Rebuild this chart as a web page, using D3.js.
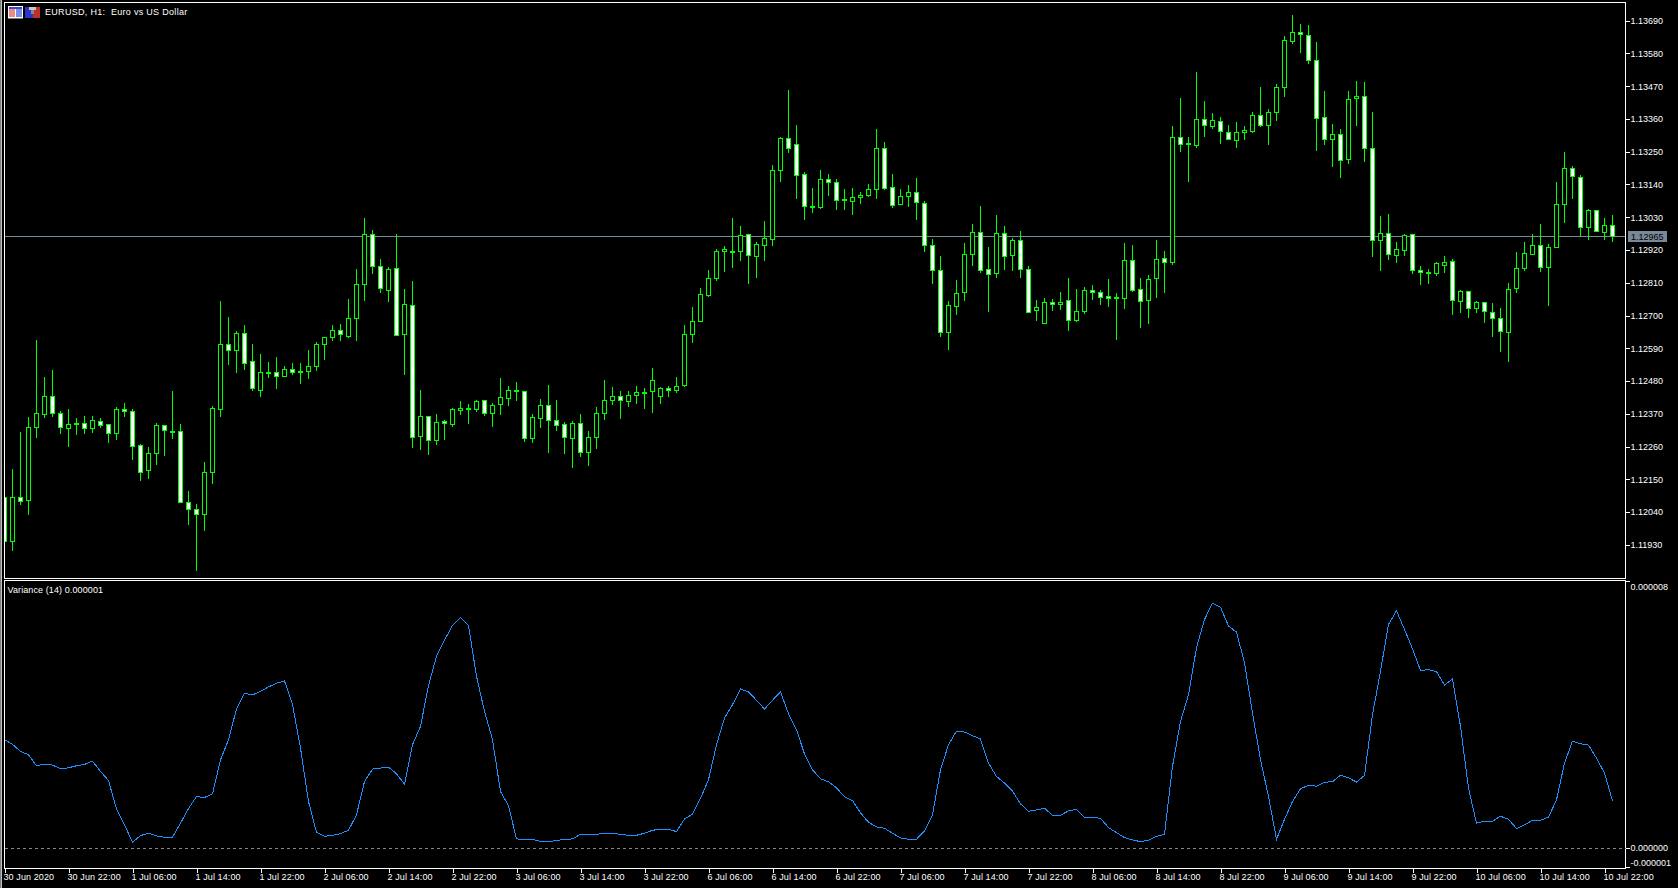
<!DOCTYPE html>
<html>
<head>
<meta charset="utf-8">
<title>EURUSD, H1</title>
<script src="https://cdn.jsdelivr.net/npm/d3@7/dist/d3.min.js"></script>
<style>
  html, body { margin: 0; padding: 0; background: #000; overflow: hidden; }
  svg { display: block; }
  text { font-family: "Liberation Sans", Arial, sans-serif; font-size: 9px; fill: #fff; }
  .tick line, .domain { stroke: #fff; shape-rendering: crispEdges; }
</style>
</head>
<body>
<svg id="chart" width="1678" height="888"></svg>
<script>
// prices are stored as price x 100000
const opens = [
112090,111941,112090,112079,112324,112368,112429,112372,112321,112333,
112339,112321,112345,112335,112304,112386,112379,112265,112180,112237,
112329,112307,112312,112073,112050,112032,112173,112385,112604,112583,
112641,112544,112448,112504,112507,112495,112520,112509,112512,112529,
112603,112626,112648,112630,112690,112805,112973,112866,112786,112859,
112636,112735,112294,112362,112280,112345,112337,112381,112384,112384,
112416,112371,112398,112421,112445,112446,112287,112354,112399,112349,
112335,112290,112339,112243,112290,112371,112414,112429,112414,112433,
112441,112445,112428,112456,112451,112465,112636,112680,112769,112824,
112915,112911,112915,112973,112901,112938,112955,113190,113296,113275,
113175,113064,113063,113158,113148,113086,113083,113096,113103,113123,
113262,113131,113073,113099,113114,113077,112936,112852,112643,112733,
112777,112905,112980,112856,112841,112977,112901,112953,112856,112717,
112673,112745,112737,112752,112686,112713,112785,112778,112765,112757,
112757,112886,112789,112750,112824,112893,112878,113299,113277,113273,
113359,113335,113353,113316,113288,113314,113320,113373,113338,113383,
113467,113621,113652,113641,113558,113366,113293,113309,113225,113430,
113437,113262,112952,112977,112903,112919,112973,112852,112844,112841,
112870,112883,112750,112782,112723,112742,112711,112691,112646,112791,
112858,112906,112936,112864,112928,113074,113195,113165,112997,113054,
112980,113003];
const highs = [
112104,112184,112308,112360,112619,112494,112518,112380,112386,112357,
112363,112363,112355,112335,112394,112407,112386,112269,112259,112339,
112329,112447,112336,112111,112068,112209,112397,112749,112696,112649,
112668,112605,112572,112545,112561,112531,112541,112541,112585,112612,
112627,112669,112672,112756,112856,113027,112988,112889,112862,112974,
112790,112816,112450,112362,112370,112350,112389,112413,112403,112417,
112417,112406,112491,112464,112477,112446,112369,112419,112466,112417,
112342,112345,112370,112313,112393,112483,112460,112447,112447,112464,
112457,112524,112460,112464,112494,112668,112729,112792,112853,112923,
112934,113028,113001,112973,112946,113017,113205,113299,113458,113339,
113182,113129,113188,113175,113158,113125,113129,113115,113142,113327,
113283,113176,113125,113139,113162,113085,112957,112900,112749,112820,
112944,113008,113068,112931,113038,113001,112961,112984,112867,112753,
112759,112756,112779,112826,112790,112796,112803,112786,112823,112776,
112944,112937,112826,112837,112954,112917,113337,113431,113299,113518,
113421,113381,113367,113340,113350,113337,113384,113468,113394,113477,
113639,113710,113679,113676,113619,113454,113344,113327,113454,113488,
113485,113384,113035,113041,112947,112974,112973,112867,112856,112879,
112900,112889,112786,112782,112749,112745,112743,112726,112810,112914,
112947,112974,113008,112940,113149,113250,113203,113171,113057,113054,
113028,113038];
const lows = [
111908,111908,112064,112031,112289,112357,112360,112303,112259,112300,
112303,112306,112323,112273,112283,112360,112216,112145,112152,112199,
112229,112286,112072,111997,111843,111977,112135,112360,112535,112508,
112518,112447,112427,112491,112454,112495,112501,112471,112488,112514,
112551,112615,112615,112625,112615,112749,112840,112776,112746,112633,
112501,112256,112247,112230,112266,112282,112324,112366,112336,112377,
112363,112326,112366,112397,112413,112276,112272,112323,112239,112313,
112235,112188,112225,112195,112252,112350,112400,112353,112393,112403,
112387,112373,112403,112427,112440,112460,112608,112680,112763,112816,
112847,112860,112884,112806,112826,112884,112934,113149,113246,113092,
113021,113045,113058,113102,113055,113055,113038,113075,113098,113092,
113122,113062,113073,113065,113021,112914,112806,112628,112585,112702,
112749,112867,112843,112712,112826,112853,112850,112826,112713,112682,
112673,112716,112719,112649,112679,112706,112753,112736,112729,112618,
112722,112779,112659,112672,112759,112776,112870,113250,113149,113263,
113300,113327,113276,113291,113263,113290,113313,113333,113274,113353,
113435,113613,113583,113543,113251,113271,113200,113163,113210,113335,
113217,112898,112851,112885,112878,112901,112841,112801,112807,112834,
112844,112703,112707,112693,112710,112676,112629,112579,112545,112777,
112851,112904,112847,112733,112928,113011,113092,112965,112952,112979,
112955,112947];
const closes = [
111941,112090,112076,112325,112372,112429,112371,112324,112335,112336,
112321,112349,112331,112304,112386,112378,112260,112176,112238,112332,
112311,112312,112072,112049,112032,112174,112389,112604,112583,112641,
112539,112452,112507,112508,112495,112520,112509,112513,112530,112604,
112627,112648,112634,112691,112805,112973,112864,112791,112856,112633,
112738,112292,112362,112280,112342,112339,112386,112389,112389,112412,
112371,112399,112423,112449,112449,112287,112359,112399,112347,112331,
112290,112339,112240,112292,112372,112416,112429,112414,112433,112443,
112443,112483,112456,112449,112463,112637,112681,112772,112825,112916,
112923,112916,112970,112901,112940,112960,113187,113296,113264,113170,
113069,113067,113158,113148,113089,113091,113097,113104,113124,113262,
113126,113072,113101,113114,113079,112935,112851,112643,112735,112775,
112906,112980,112854,112838,112977,112901,112953,112854,112713,112728,
112745,112737,112745,112686,112715,112785,112777,112760,112757,112762,
112886,112784,112750,112822,112889,112881,113299,113277,113279,113359,
113338,113356,113321,113291,113316,113322,113373,113338,113383,113466,
113625,113652,113645,113558,113363,113293,113309,113222,113427,113437,
113262,112953,112977,112906,112923,112970,112852,112846,112846,112873,
112879,112752,112782,112725,112742,112711,112690,112646,112789,112859,
112909,112936,112861,112930,113074,113195,113168,112997,113054,112982,
113003,112967];

// Variance (14), in units of 0.000001
const variance = [
3.25,3.11,2.90,2.80,2.47,2.52,2.49,2.38,2.41,2.47,
2.51,2.61,2.30,2.03,1.17,0.70,0.18,0.38,0.45,0.37,
0.33,0.33,0.75,1.19,1.55,1.52,1.63,2.65,3.25,4.17,
4.64,4.59,4.70,4.83,4.94,5.01,4.30,3.00,1.40,0.48,
0.36,0.39,0.44,0.54,1.00,2.00,2.37,2.40,2.43,2.23,
1.92,3.10,3.65,4.87,5.75,6.23,6.67,6.90,6.67,5.15,
4.10,3.25,1.70,1.27,0.28,0.27,0.27,0.21,0.20,0.23,
0.27,0.28,0.42,0.42,0.42,0.45,0.45,0.42,0.39,0.39,
0.45,0.54,0.57,0.57,0.50,0.88,1.02,1.50,2.05,3.10,
3.90,4.30,4.77,4.68,4.43,4.17,4.43,4.68,4.03,3.55,
2.82,2.35,2.08,1.99,1.81,1.54,1.43,1.06,0.78,0.64,
0.60,0.45,0.31,0.27,0.27,0.52,1.00,2.35,3.10,3.51,
3.48,3.37,3.27,2.55,2.15,1.95,1.71,1.33,1.11,1.15,
1.20,0.99,0.99,1.12,1.17,0.92,0.92,0.90,0.62,0.47,
0.32,0.25,0.20,0.24,0.36,0.42,2.45,3.80,4.60,6.00,
6.85,7.33,7.22,6.65,6.47,5.55,4.05,2.65,1.55,0.27,
0.87,1.40,1.78,1.89,1.86,1.98,1.99,2.19,2.11,1.98,
2.18,4.00,5.30,6.70,7.11,6.55,5.97,5.32,5.35,5.29,
4.89,5.07,3.65,1.80,0.75,0.81,0.81,0.96,0.87,0.59,
0.70,0.84,0.84,0.93,1.45,2.55,3.21,3.13,3.09,2.70,
2.25,1.42];

const priceTicks = ['1.13690','1.13580','1.13470','1.13360','1.13250','1.13140','1.13030','1.12920','1.12810','1.12700','1.12590','1.12480','1.12370','1.12260','1.12150','1.12040','1.11930'];
const lastPrice = '1.12965';
const varTicks = [8, 0, -0.55];
const varTickLabels = ['0.000008', '0.000000', '-0.000001'];
const timeLabels = ['30 Jun 2020','30 Jun 22:00','1 Jul 06:00','1 Jul 14:00','1 Jul 22:00','2 Jul 06:00','2 Jul 14:00','2 Jul 22:00','3 Jul 06:00','3 Jul 14:00','3 Jul 22:00','6 Jul 06:00','6 Jul 14:00','6 Jul 22:00','7 Jul 06:00','7 Jul 14:00','7 Jul 22:00','8 Jul 06:00','8 Jul 14:00','8 Jul 22:00','9 Jul 06:00','9 Jul 14:00','9 Jul 22:00','10 Jul 06:00','10 Jul 14:00','10 Jul 22:00'];

const toPts = s => Math.round(+s * 100000);
const svg = d3.select('#chart');
const green = '#00ff00', grey = '#778899', blue = '#1e90ff';
const left = 4.5, right = 1625.5;

const x = d3.scaleLinear().domain([0, 201]).range([4.5, 1612.5]);
const yPrice = d3.scaleLinear().domain([113690, 111930]).range([20.7, 544.8]);
const yVar = d3.scaleLinear().domain([0, 8]).range([848.3, 581]);
const crisp = v => Math.round(v - 0.5) + 0.5;

svg.append('rect').attr('width', 1678).attr('height', 888).attr('fill', '#000');
// window edge on the left
svg.append('rect').attr('width', 1).attr('height', 888).attr('fill', '#808080');
svg.append('rect').attr('x', 1).attr('width', 1).attr('height', 888).attr('fill', '#c0c0c0');

const defs = svg.append('defs');
defs.append('clipPath').attr('id', 'mainClip').append('rect')
  .attr('x', left).attr('y', 3).attr('width', right - left).attr('height', 575);

// last price line sits behind the candles
svg.append('line')
  .attr('x1', left).attr('x2', right)
  .attr('y1', crisp(yPrice(toPts(lastPrice)))).attr('y2', crisp(yPrice(toPts(lastPrice))))
  .attr('stroke', grey).attr('shape-rendering', 'crispEdges');

const candles = svg.append('g').attr('clip-path', 'url(#mainClip)')
  .attr('shape-rendering', 'crispEdges')
  .selectAll('g').data(d3.range(opens.length)).join('g');

candles.append('line')
  .attr('x1', i => x(i)).attr('x2', i => x(i))
  .attr('y1', i => yPrice(highs[i])).attr('y2', i => yPrice(lows[i]))
  .attr('stroke', green);

candles.append('rect')
  .attr('x', i => x(i) - 2)
  .attr('width', 4)
  .attr('y', i => crisp(yPrice(Math.max(opens[i], closes[i]))))
  .attr('height', i => Math.max(1, Math.round(Math.abs(yPrice(opens[i]) - yPrice(closes[i])))))
  .attr('fill', i => closes[i] < opens[i] ? '#fff' : '#000')
  .attr('stroke', green);

// panel frames
svg.append('rect').attr('x', left).attr('y', 2.5).attr('width', right - left).attr('height', 576)
  .attr('fill', 'none').attr('stroke', '#fff').attr('shape-rendering', 'crispEdges');
svg.append('rect').attr('x', left).attr('y', 580.5).attr('width', right - left).attr('height', 288)
  .attr('fill', 'none').attr('stroke', '#fff').attr('shape-rendering', 'crispEdges');

// variance panel
svg.append('line')
  .attr('x1', left).attr('x2', right)
  .attr('y1', crisp(yVar(0)) ).attr('y2', crisp(yVar(0)))
  .attr('stroke', grey).attr('stroke-dasharray', '3,3').attr('shape-rendering', 'crispEdges');

const varLine = d3.line().x((d, i) => x(i)).y(d => yVar(d));
svg.append('path').datum(variance)
  .attr('d', varLine)
  .attr('fill', 'none').attr('stroke', blue).attr('stroke-width', 1)
  .attr('shape-rendering', 'crispEdges');

// axes
const priceAxis = d3.axisRight(yPrice)
  .tickValues(priceTicks.map(toPts))
  .tickFormat(d => (d / 100000).toFixed(5))
  .tickSize(4).tickPadding(1).tickSizeOuter(0);
const priceG = svg.append('g').attr('transform', `translate(${right},0)`).call(priceAxis);
priceG.select('.domain').remove();

const varAxis = d3.axisRight(yVar)
  .tickValues(varTicks)
  .tickFormat((d, i) => varTickLabels[i])
  .tickSize(4).tickPadding(1).tickSizeOuter(0);
const varG = svg.append('g').attr('transform', `translate(${right},0)`).call(varAxis);
varG.select('.domain').remove();
varG.selectAll('text').attr('dy', (d, i) => [8.4, 2.1, -1][i]);

const timeAxis = d3.axisBottom(x)
  .tickValues(timeLabels.map((d, i) => i * 8))
  .tickFormat((d, i) => timeLabels[i])
  .tickSize(4).tickPadding(1).tickSizeOuter(0);
const timeG = svg.append('g').attr('transform', 'translate(0,868.5)').call(timeAxis);
timeG.select('.domain').remove();
timeG.selectAll('text').attr('text-anchor', 'start').attr('x', -1.5).style('letter-spacing', '0.1px');

// last price tag
const tagY = crisp(yPrice(toPts(lastPrice)));
svg.append('rect').attr('x', 1628).attr('y', tagY - 5.5).attr('width', 39).attr('height', 11).attr('fill', grey);
svg.append('text').attr('x', 1631).attr('y', tagY).attr('dy', '.34em').style('fill', '#000').text(lastPrice);

// titles
svg.append('text').attr('x', 45).attr('y', 12.3).attr('dy', '.34em').style('letter-spacing', '0.3px').style('white-space', 'pre').text('EURUSD, H1:  Euro vs US Dollar');
svg.append('text').attr('x', 7.5).attr('y', 589.7).attr('dy', '.34em').style('letter-spacing', '0.1px').text('Variance (14) 0.000001');

// window icons next to the title
const icons = svg.append('g').attr('shape-rendering', 'crispEdges');
icons.append('rect').attr('x', 8).attr('y', 6).attr('width', 15).attr('height', 13).attr('fill', '#fff');
icons.append('rect').attr('x', 9).attr('y', 7).attr('width', 13).attr('height', 2).attr('fill', '#3b46d8');
icons.append('rect').attr('x', 9).attr('y', 9).attr('width', 6).attr('height', 8).attr('fill', '#f08a80');
icons.append('rect').attr('x', 16).attr('y', 9).attr('width', 6).attr('height', 8).attr('fill', '#7d8ee8');
icons.append('rect').attr('x', 8).attr('y', 18).attr('width', 15).attr('height', 1).attr('fill', '#777');
icons.append('rect').attr('x', 25).attr('y', 7).attr('width', 8).attr('height', 11).attr('fill', '#2a35d0');
icons.append('rect').attr('x', 33).attr('y', 7).attr('width', 7).attr('height', 11).attr('fill', '#c03028');
icons.append('rect').attr('x', 29).attr('y', 7).attr('width', 7).attr('height', 3).attr('fill', '#c8c8c8');
icons.append('rect').attr('x', 31).attr('y', 10).attr('width', 3).attr('height', 4).attr('fill', '#888');
</script>
</body>
</html>
